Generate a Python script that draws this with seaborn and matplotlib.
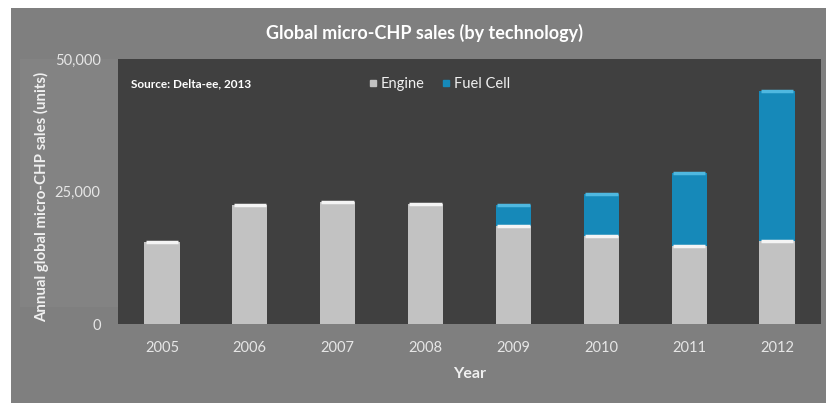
import matplotlib
matplotlib.use('Agg')
import matplotlib.pyplot as plt
import matplotlib.patches as mpatches
from matplotlib.lines import Line2D
import numpy as np
import pandas as pd
import seaborn as sns

years = ['2005', '2006', '2007', '2008', '2009', '2010', '2011', '2012']
engine = [15500, 22400, 23100, 22700, 18400, 16600, 14700, 15700]
fuel_cell = [0, 0, 0, 0, 4000, 7900, 13800, 28300]
y_ticks = [0, 25000, 50000]
y_tick_labels = ['0', '25,000', '50,000']

df = pd.DataFrame({'Year': years, 'Engine': engine, 'Fuel Cell': fuel_cell})
df['Total'] = df['Engine'] + df['Fuel Cell']

W, H = 826, 403
sns.set_style('white')
plt.rcParams['font.family'] = ['Lato', 'DejaVu Sans']

fig = plt.figure(figsize=(W / 100, H / 100), dpi=100)
fig.patch.set_facecolor('white')
# grey chart frame (white margin on top and left as in the original image)
fig.add_artist(mpatches.Rectangle((11 / W, 0), 1 - 11 / W, 1 - 8 / H,
                                  transform=fig.transFigure, facecolor='#7f7f7f',
                                  edgecolor='none', zorder=-2))
fig.add_artist(mpatches.Rectangle((20 / W, 1 - 307 / H), 98 / W, 248 / H,
                                  transform=fig.transFigure, facecolor='#838383',
                                  edgecolor='none', zorder=-1))

ax = fig.add_axes([118 / W, 1 - 324 / H, 703 / W, 265 / H])
ax.set_facecolor('#404040')

blue = '#1689b9'
grey = '#c2c2c2'
sns.barplot(data=df, x='Year', y='Total', color=blue, width=0.4,
            saturation=1, linewidth=0, edgecolor='none', ax=ax, zorder=2)
sns.barplot(data=df, x='Year', y='Engine', color=grey, width=0.4,
            saturation=1, linewidth=0, edgecolor='none', ax=ax, zorder=3)

# light highlight at top of each segment
xs = np.arange(len(years))
ax.hlines(df['Engine'], xs - 0.185, xs + 0.185, color='#f4f4f4', lw=2.5, zorder=4)
has_fc = df['Fuel Cell'] > 0
ax.hlines(df['Total'][has_fc], xs[has_fc] - 0.185, xs[has_fc] + 0.185,
          color='#4fb8e0', lw=2.5, zorder=4)

ax.set_xlim(-0.5, len(years) - 0.5)
ax.set_ylim(0, 50000)
ax.set_yticks(y_ticks)
ax.set_yticklabels(y_tick_labels)
ax.tick_params(axis='both', length=0, colors='#e6e6e6', labelsize=10.5)
ax.tick_params(axis='y', pad=12.5)
ax.tick_params(axis='x', pad=12)
for s in ax.spines.values():
    s.set_visible(False)

ax.set_xlabel('Year', color='#f0f0f0', fontsize=11.5, fontweight='bold', labelpad=9)
ax.set_ylabel('Annual global micro-CHP sales (units)', color='#f0f0f0',
              fontsize=10.8, fontweight='bold')
ax.yaxis.set_label_coords(-0.098, 0.48)

fig.text(424 / W, 1 - 33 / H, 'Global micro-CHP sales (by technology)',
         ha='center', va='center', color='white', fontsize=13, fontweight='bold')

ax.text(0.018, 0.905, 'Source: Delta-ee, 2013', transform=ax.transAxes,
        color='white', fontsize=8.5, fontweight='bold', va='center')

handles = [Line2D([], [], marker='s', ls='none', color=grey, markersize=5),
           Line2D([], [], marker='s', ls='none', color=blue, markersize=5)]
leg = ax.legend(handles, ['Engine', 'Fuel Cell'], loc='center', ncol=2,
                bbox_to_anchor=(0.455, 0.905), frameon=False, fontsize=10.5,
                handletextpad=0.05, columnspacing=1.0, handlelength=1.0)
for t in leg.get_texts():
    t.set_color('#f0f0f0')

fig.savefig('out.png', dpi=100, facecolor=fig.get_facecolor())
